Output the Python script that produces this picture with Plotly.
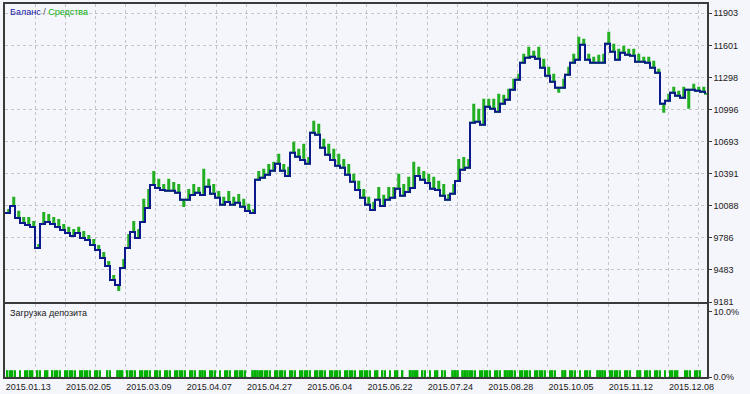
import plotly.graph_objects as go

# ---------------- data ----------------
deal_index = list(range(0, 281, 2))

balance = [
    10021, 10087, 9974, 9927, 9908, 9889, 9691, 9917, 9936, 9917,
    9889, 9861, 9832, 9804, 9832, 9785, 9766, 9719, 9672, 9596,
    9521, 9389, 9341, 9502, 9691, 9842, 9785, 9936, 10068, 10285,
    10257, 10238, 10229, 10229, 10210, 10144, 10144, 10191, 10210, 10191,
    10267, 10201, 10163, 10097, 10125, 10097, 10116, 10078, 10040, 10021,
    10333, 10352, 10380, 10418, 10484, 10418, 10370, 10588, 10550, 10521,
    10484, 10776, 10757, 10635, 10569, 10521, 10465, 10446, 10380, 10314,
    10238, 10163, 10097, 10049, 10144, 10087, 10144, 10163, 10248, 10182,
    10219, 10257, 10370, 10333, 10304, 10248, 10238, 10182, 10144, 10201,
    10323, 10427, 10446, 10871, 10880, 10852, 11022, 11003, 10975, 11050,
    11088, 11182, 11277, 11437, 11484, 11494, 11475, 11390, 11314, 11258,
    11201, 11201, 11324, 11437, 11465, 11607, 11465, 11437, 11437, 11437,
    11617, 11541, 11465, 11532, 11513, 11503, 11447, 11447, 11437, 11390,
    11343, 11050, 11078, 11154, 11126, 11107, 11182, 11182, 11173, 11163,
    11145,
]

# equity extreme reached between two balance updates
equity_peak = [
    10049, 10163, 10031, 9974, 9974, 9936, 9719, 10021, 10002, 9974,
    9955, 9908, 9880, 9861, 9880, 9842, 9804, 9766, 9710, 9644,
    9559, 9426, 9294, 9577, 9813, 9936, 9861, 10144, 10238, 10408,
    10333, 10285, 10333, 10304, 10285, 10087, 10238, 10285, 10257, 10427,
    10333, 10285, 10219, 10163, 10219, 10163, 10191, 10144, 10097, 10049,
    10408, 10427, 10474, 10493, 10569, 10474, 10446, 10682, 10616, 10663,
    10540, 10880, 10852, 10710, 10663, 10616, 10569, 10521, 10474, 10380,
    10314, 10238, 10163, 10116, 10257, 10182, 10257, 10257, 10380, 10285,
    10352, 10493, 10446, 10408, 10380, 10352, 10314, 10285, 10191, 10285,
    10521, 10540, 10521, 11041, 10993, 11088, 11088, 11088, 11135, 11126,
    11182, 11277, 11324, 11513, 11579, 11541, 11579, 11465, 11390, 11324,
    11163, 11277, 11390, 11513, 11673, 11654, 11513, 11484, 11503, 11513,
    11720, 11607, 11560, 11588, 11560, 11560, 11513, 11484, 11484, 11447,
    11371, 10975, 11135, 11201, 11163, 11201, 11012, 11229, 11201, 11201,
    11116,
]

load_thin_deals = [
    1, 2, 3, 4, 6, 8, 9, 10, 11, 13, 14, 16, 17, 19, 20, 21, 22, 24, 25, 26, 27, 28,
    30, 31, 32, 33, 34, 36, 37, 38, 41, 42, 47, 49, 50, 51, 52, 54, 55, 56, 57, 58,
    60, 61, 62, 64, 65, 66, 68, 69, 70, 71, 72, 74, 75, 76, 80, 82, 83, 84, 86, 88,
    89, 90, 92, 93, 94, 95, 96, 102, 103, 104, 105, 106, 108, 109, 110, 111, 112,
    114, 115, 116, 118, 119, 120, 121, 122, 124, 125, 126, 127, 128, 130, 131, 132,
    133, 134, 136, 137, 138, 139, 140, 142, 143, 144, 145, 146, 148, 149, 151, 152,
    154, 156, 157, 159, 165, 167, 168, 170, 172, 173, 175, 176, 186, 187, 188, 190,
    191, 192, 193, 194, 196, 197, 198, 203, 204, 206, 207, 208, 209, 210, 212, 213,
    214, 215, 216, 218, 219, 220, 226, 227, 228, 230, 232, 233, 234, 240, 242, 243,
    244, 245, 246, 248, 249, 250, 256, 257, 258, 260, 261, 262, 264, 266, 267, 268,
    269, 272, 273, 274, 276, 277, 278,
]
load_block_deals = [45, 46, 78, 79, 99, 100, 101, 162, 163, 164, 179, 180, 181,
                    183, 184, 185, 200, 201, 202, 223, 224, 237, 238, 239, 253, 254]
load_pct = 1.05

date_labels = ["2015.01.13", "2015.02.05", "2015.03.09", "2015.04.07", "2015.04.27",
               "2015.06.04", "2015.06.22", "2015.07.24", "2015.08.28", "2015.10.05",
               "2015.11.12", "2015.12.08"]
price_ticks = [9181, 9483, 9786, 10088, 10391, 10693, 10996, 11298, 11601, 11903]
load_ticks = [0, 10]
load_tick_text = ["0.0%", "10.0%"]

# ---------------- styling ----------------
BG = "#F5F5FC"
FRAME = "#3A3A3A"
GRID = "#C4C4CC"
NAVY = "#0A1A8A"
GREEN = "#22B022"
FONT = "Liberation Sans"

W, H = 750, 394
X_RANGE = [0, 280.8]
GRID_STEP = 12.06
grid_vals = [GRID_STEP * k for k in range(24)]
grid_text = [date_labels[k // 2] if k % 2 == 0 else "" for k in range(24)]

# equity path: at balance between trades, short excursion while a trade is open
eq_x, eq_y = [], []
for d, b, e in zip(deal_index, balance, equity_peak):
    eq_x += [d, d + 1.3, d + 1.7]
    eq_y += [b, e, b]

fig = go.Figure()

fig.add_trace(go.Scatter(x=eq_x, y=eq_y, mode="lines", line_shape="hv",
                         line=dict(color=GREEN, width=2), xaxis="x", yaxis="y",
                         hoverinfo="skip", showlegend=False))
fig.add_trace(go.Scatter(x=deal_index, y=balance, mode="lines", line_shape="hv",
                         line=dict(color=NAVY, width=2), xaxis="x", yaxis="y",
                         hoverinfo="skip", showlegend=False))
fig.add_trace(go.Bar(x=load_thin_deals, y=[load_pct] * len(load_thin_deals),
                     width=0.7, marker=dict(color="#00B000", line=dict(width=0)),
                     xaxis="x2", yaxis="y2", hoverinfo="skip", showlegend=False))
fig.add_trace(go.Bar(x=load_block_deals, y=[load_pct] * len(load_block_deals),
                     width=1.05, marker=dict(color="#00B000", line=dict(width=0)),
                     xaxis="x2", yaxis="y2", hoverinfo="skip", showlegend=False))

xdom = [5 / W, 707 / W]
common_x = dict(domain=xdom, range=X_RANGE, showline=True, mirror=True,
                linecolor=FRAME, linewidth=1.5, showgrid=True, gridcolor=GRID,
                griddash="3px,3px", gridwidth=1, zeroline=False, automargin=False,
                tickmode="array", tickvals=grid_vals)

fig.update_layout(
    width=W, height=H,
    margin=dict(l=0, r=0, t=0, b=0, pad=0),
    paper_bgcolor=BG, plot_bgcolor=BG,
    font=dict(family=FONT, size=9, color="#202020"),
    barmode="overlay",
    showlegend=False,
    xaxis=dict(**common_x, anchor="y", showticklabels=False, ticks=""),
    xaxis2=dict(**common_x, anchor="y2", ticktext=grid_text, showticklabels=True,
                ticks="", ticklabelposition="outside right",
                tickfont=dict(family=FONT, size=9, color="#202020")),
    yaxis=dict(domain=[(H - 302) / H, (H - 4) / H], range=[9181, 11991],
               side="right", anchor="x", showline=True, mirror=True,
               linecolor=FRAME, linewidth=1.5, showgrid=True, gridcolor=GRID,
               griddash="3px,3px", zeroline=False, automargin=False,
               tickmode="array",
               tickvals=price_ticks, ticktext=[str(v) for v in price_ticks],
               ticks="outside", ticklen=3, tickcolor=FRAME,
               tickfont=dict(family=FONT, size=9, color="#202020")),
    yaxis2=dict(domain=[(H - 377) / H, (H - 304) / H], range=[0, 11.2],
                side="right", anchor="x2", showline=True, mirror=True,
                linecolor=FRAME, linewidth=1.5, showgrid=False, zeroline=False,
                automargin=False,
                tickmode="array", tickvals=load_ticks, ticktext=load_tick_text,
                ticks="outside", ticklen=3, tickcolor=FRAME,
                tickfont=dict(family=FONT, size=9, color="#202020")),
    annotations=[
        dict(xref="paper", yref="paper", x=8 / W, y=(H - 12) / H,
             xanchor="left", yanchor="middle", showarrow=False,
             text='<span style="color:#1A1AA8">Баланс</span>'
                  '<span style="color:#505050"> / </span>'
                  '<span style="color:#10B010">Средства</span>',
             font=dict(family=FONT, size=9)),
        dict(xref="paper", yref="paper", x=8 / W, y=(H - 313) / H,
             xanchor="left", yanchor="middle", showarrow=False,
             text="Загрузка депозита",
             font=dict(family=FONT, size=9, color="#202020")),
    ],
)

fig.write_html("out.html")
